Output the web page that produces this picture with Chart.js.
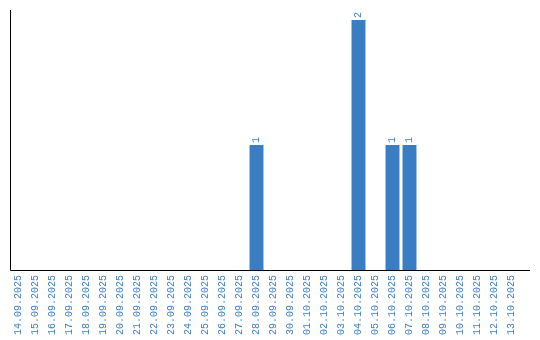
<!DOCTYPE html>
<html><head><meta charset="utf-8">
<script src="https://cdn.jsdelivr.net/npm/chart.js@4/dist/chart.umd.min.js"></script>
<style>html,body{margin:0;padding:0;background:#fff}#wrap{width:540px;height:340px}</style>
</head><body><div id="wrap"><canvas id="c" width="540" height="340"></canvas></div>
<script>
const categories = ["14.09.2025","15.09.2025","16.09.2025","17.09.2025","18.09.2025","19.09.2025","20.09.2025","21.09.2025","22.09.2025","23.09.2025","24.09.2025","25.09.2025","26.09.2025","27.09.2025","28.09.2025","29.09.2025","30.09.2025","01.10.2025","02.10.2025","03.10.2025","04.10.2025","05.10.2025","06.10.2025","07.10.2025","08.10.2025","09.10.2025","10.10.2025","11.10.2025","12.10.2025","13.10.2025"];
const counts = [0,0,0,0,0,0,0,0,0,0,0,0,0,0,1,0,0,0,0,0,2,0,1,1,0,0,0,0,0,0];
const yMax = 2.08;

const BLUE = '#3b7dc2';
const FONT = "'Liberation Mono', 'DejaVu Sans Mono', monospace";

const valueLabels = {
  id: 'valueLabels',
  afterDatasetsDraw(chart) {
    const ctx = chart.ctx;
    const meta = chart.getDatasetMeta(0);
    ctx.save();
    ctx.fillStyle = BLUE;
    ctx.font = "10px " + FONT;
    meta.data.forEach((bar, i) => {
      const v = chart.data.datasets[0].data[i];
      if (!v) return;
      ctx.save();
      ctx.translate(bar.x, bar.y - 2);
      ctx.rotate(-Math.PI / 2);
      ctx.textAlign = 'left';
      ctx.textBaseline = 'middle';
      ctx.fillText(String(v), 0, 0);
      ctx.restore();
    });
    ctx.restore();
  }
};
const axisLines = {
  id: 'axisLines',
  afterDraw(chart) {
    const a = chart.chartArea, ctx = chart.ctx;
    ctx.save();
    ctx.strokeStyle = '#000';
    ctx.lineWidth = 1;
    ctx.beginPath();
    ctx.moveTo(Math.round(a.left) + 0.5, a.top);
    ctx.lineTo(Math.round(a.left) + 0.5, Math.round(a.bottom) + 0.5);
    ctx.lineTo(a.right + 10, Math.round(a.bottom) + 0.5);
    ctx.stroke();
    ctx.restore();
  }
};

new Chart(document.getElementById('c'), {
  type: 'bar',
  data: { labels: categories, datasets: [{ data: counts, backgroundColor: BLUE, borderWidth: 0, categoryPercentage: 1, barPercentage: 0.82 }] },
  options: {
    responsive: false, animation: false,
    layout: { padding: { left: 10, top: 10, right: 20, bottom: 0 } },
    plugins: { legend: { display: false }, tooltip: { enabled: false } },
    scales: {
      x: {
        grid: { display: false, drawTicks: false },
        border: { display: false },
        afterFit(scale) { scale.height = 70; },
        ticks: { color: BLUE, font: { family: FONT, size: 10 }, minRotation: 90, maxRotation: 90, autoSkip: false, padding: 5 }
      },
      y: {
        min: 0, max: yMax,
        grid: { display: false, drawTicks: false },
        border: { display: false },
        ticks: { display: false }
      }
    }
  },
  plugins: [valueLabels, axisLines]
});
</script></body></html>
